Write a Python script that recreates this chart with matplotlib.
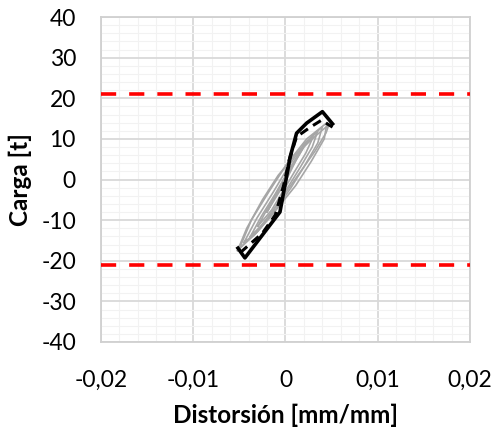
import matplotlib
matplotlib.use("Agg")
import matplotlib.pyplot as plt
from matplotlib.ticker import MultipleLocator

plt.rcParams['font.family'] = ['Lato', 'DejaVu Sans']

# ---- data ----
x_ticks = [-0.02, -0.01, 0, 0.01, 0.02]
x_labels = ["-0,02", "-0,01", "0", "0,01", "0,02"]
y_ticks = [-40, -30, -20, -10, 0, 10, 20, 30, 40]
y_labels = ["-40", "-30", "-20", "-10", "0", "10", "20", "30", "40"]

limit_load = 21.0

# gray hysteresis loops (distortion, load)
loop1_x = [-0.0050, -0.0037, -0.0018, 0.0002, 0.0023, 0.0045, 0.0042, 0.0028, 0.0011, -0.0012, -0.0033, -0.0050]
loop1_y = [-17.0, -10.0, -3.0, 4.0, 10.0, 14.0, 10.0, 4.5, -1.5, -8.0, -13.5, -17.0]
loop2_x = [-0.0045, -0.0031, -0.0013, 0.0004, 0.0021, 0.0040, 0.0035, 0.0021, 0.0006, -0.0014, -0.0031, -0.0045]
loop2_y = [-15.5, -9.5, -3.0, 3.5, 9.0, 13.0, 9.0, 3.5, -2.0, -8.5, -13.0, -15.5]
loop3_x = [-0.0038, -0.0026, -0.0011, 0.0004, 0.0019, 0.0035, 0.0029, 0.0016, 0.0001, -0.0014, -0.0027, -0.0038]
loop3_y = [-14.0, -9.0, -3.5, 2.5, 8.0, 12.0, 8.0, 3.0, -2.5, -8.0, -11.5, -14.0]
loop4_x = [-0.0030, -0.0018, -0.0005, 0.0008, 0.0020, 0.0030, 0.0022, 0.0010, -0.0003, -0.0015, -0.0030]
loop4_y = [-11.5, -6.5, -1.5, 3.5, 8.0, 10.5, 6.5, 2.0, -3.0, -7.5, -11.5]
loop5_x = [-0.0052, -0.0042, -0.0025, -0.0008, 0.0012, 0.0034, 0.0047, 0.0044, 0.0032, 0.0015, -0.0007, -0.0028, -0.0052]
loop5_y = [-17.5, -12.0, -5.0, 1.0, 6.5, 11.0, 13.5, 11.5, 7.0, 1.5, -5.5, -12.0, -17.5]
loop6_x = [-0.0020, -0.0010, 0.0003, 0.0015, 0.0022, 0.0012, 0.0000, -0.0012, -0.0020]
loop6_y = [-8.0, -3.5, 2.0, 6.5, 9.0, 5.0, -0.5, -5.0, -8.0]
loops = [(loop1_x, loop1_y), (loop2_x, loop2_y), (loop3_x, loop3_y),
         (loop4_x, loop4_y), (loop5_x, loop5_y), (loop6_x, loop6_y)]

# black envelope (solid)
env_x = [-0.00515, -0.0044, -0.0006, 0.00005, 0.0005, 0.0012, 0.0023, 0.0040, 0.0051]
env_y = [-16.9, -19.3, -8.0, -0.1, 5.5, 11.4, 13.9, 16.7, 13.7]
# black envelope (dashed)
env2_x = [-0.0049, -0.0025, -0.0011, -0.0002, 0.0004, 0.0012, 0.0027, 0.0039, 0.0051]
env2_y = [-18.0, -13.2, -8.7, -1.4, 4.8, 10.5, 12.9, 14.6, 12.9]

# ---- figure ----
fig = plt.figure(figsize=(4.95, 4.37), dpi=100)
ax = fig.add_axes([0.204, 0.2174, 0.7455, 0.7436])

ax.set_xlim(-0.02, 0.02)
ax.set_ylim(-40, 40)
ax.xaxis.set_minor_locator(MultipleLocator(0.002))
ax.yaxis.set_minor_locator(MultipleLocator(2))
ax.set_xticks(x_ticks)
ax.set_xticklabels(x_labels)
ax.set_yticks(y_ticks)
ax.set_yticklabels(y_labels)

ax.grid(which='minor', color='#f2f2f2', linewidth=0.8, zorder=0)
ax.grid(which='major', color='#d9d9d9', linewidth=1.3, zorder=0)
ax.set_axisbelow(True)
for s in ax.spines.values():
    s.set_color('#d0d0d0')
    s.set_linewidth(1.3)
ax.tick_params(which='both', length=0, labelsize=16.5, colors='#000000')
ax.tick_params(axis='x', pad=20)
ax.tick_params(axis='y', pad=18)

for lx, ly in loops:
    ax.plot(lx, ly, color='#a6a6a6', linewidth=1.2, zorder=2)

ax.plot(env2_x, env2_y, color='black', linewidth=2.2, dashes=(3, 2), zorder=3)
ax.plot(env_x, env_y, color='black', linewidth=2.6, zorder=4)

for v in (limit_load, -limit_load):
    ax.axhline(v, color='#ff0000', linewidth=2.6, dashes=(4.2, 3.6), zorder=5)

ax.set_xlabel('Distorsión [mm/mm]', fontsize=17.5, fontweight='bold', labelpad=9)
ax.set_ylabel('Carga [t]', fontsize=17.5, fontweight='bold', labelpad=7)

fig.savefig('out.png', dpi=100)
